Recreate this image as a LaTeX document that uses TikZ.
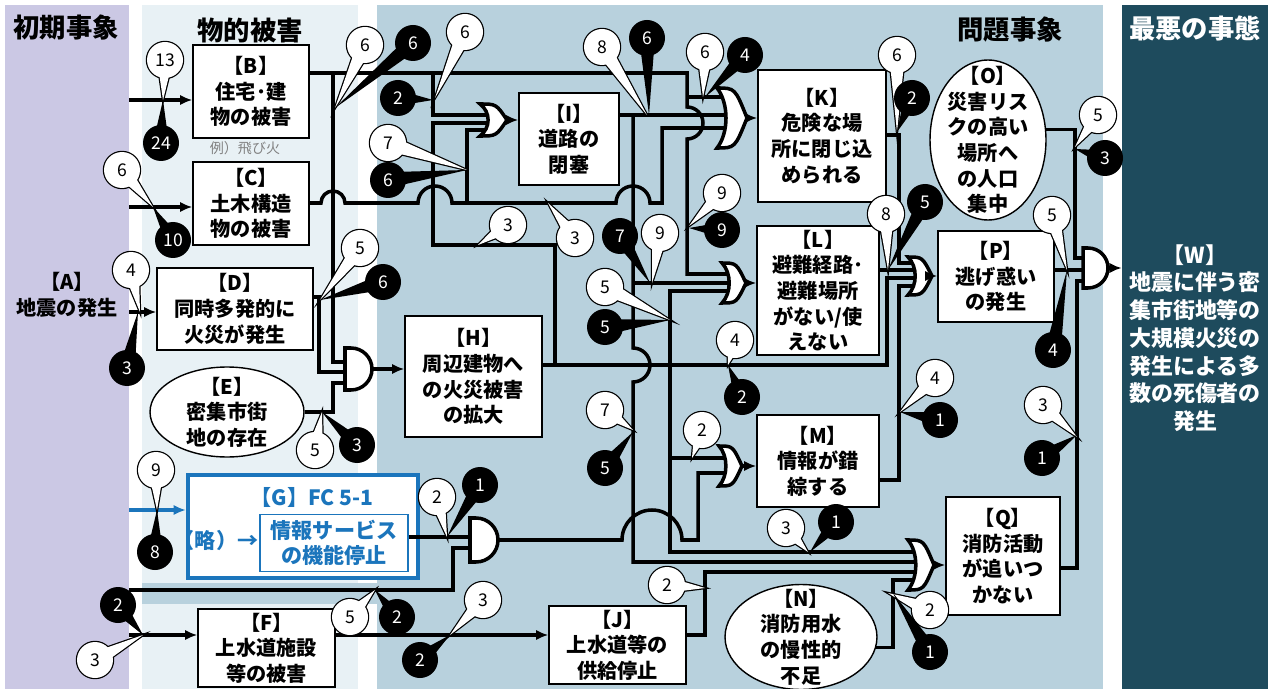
\documentclass[tikz,border=0pt]{standalone}
\usepackage{fontspec}
\setmainfont{Noto Sans CJK JP}
\usetikzlibrary{calc,shapes.geometric,arrows.meta}
\definecolor{lav}{RGB}{203,200,228}
\definecolor{pale}{RGB}{232,241,245}
\definecolor{mid}{RGB}{184,209,221}
\definecolor{dark}{RGB}{30,75,93}
\definecolor{gblue}{RGB}{27,117,188}
\begin{document}
\begin{tikzpicture}[x=0.02cm, y=-0.02cm, >={Latex[length=7pt,width=6pt]}]
\tikzstyle{box} = [draw, fill=white, line width=0.8pt, align=center, inner sep=1pt, font=\fontsize{11.5}{14.6}\selectfont\bfseries]
\tikzstyle{ell} = [draw, fill=white, ellipse, line width=0.8pt, inner sep=0pt]
\tikzstyle{txt} = [align=center, font=\fontsize{11.5}{14.6}\selectfont\bfseries]
\tikzstyle{head} = [font=\fontsize{15}{15}\selectfont\bfseries]
\tikzstyle{gtxt} = [text=gblue, font=\fontsize{12}{14}\selectfont\bfseries]
\tikzstyle{wire} = [line width=2pt]
\tikzstyle{gate} = [draw, fill=white, line width=2pt]
\tikzstyle{num} = [font=\fontsize{10}{10}\selectfont]

% gates: name, left x, centre y, width, height
\def\orgate#1#2#3#4#5{
\draw[gate] (#2,#3-#5/2) .. controls (#2+0.6*#4,#3-#5/2) .. (#2+#4,#3) .. controls (#2+0.6*#4,#3+#5/2) .. (#2,#3+#5/2) .. controls (#2+0.4*#4,#3+#5/4) and (#2+0.4*#4,#3-#5/4) .. (#2,#3-#5/2) -- cycle;
\coordinate (#1) at (#2+#4,#3);
}
\def\andgate#1#2#3#4#5{
\draw[gate] (#2,#3-#5/2) -- (#2+#4-#5/2,#3-#5/2) arc[start angle=-90,end angle=90,radius=#5/2] -- (#2,#3+#5/2) -- cycle;
\coordinate (#1) at (#2+#4,#3);
}
% callouts: name, centre, number, tip
\def\wcall#1#2#3#4{
\draw[line width=1.4pt] #2 circle[radius=18];
\draw[line width=1.4pt] ($#2!4.5pt!90:#4$) -- #4 -- ($#2!4.5pt!-90:#4$) -- cycle;
\fill[white] #2 circle[radius=18];
\fill[white] ($#2!4.5pt!90:#4$) -- #4 -- ($#2!4.5pt!-90:#4$) -- cycle;
\node[num] (#1) at #2 {#3};
}
\def\bcall#1#2#3#4{
\fill[black] #2 circle[radius=18];
\fill[black] ($#2!4.5pt!90:#4$) -- #4 -- ($#2!4.5pt!-90:#4$) -- cycle;
\node[num, text=white] (#1) at #2 {#3};
}

\useasboundingbox (0,0) rectangle (1271,689);
\fill[lav] (5,5) rectangle (129,689);
\fill[pale] (142,5) rectangle (358,689);
\fill[mid] (377,5) rectangle (1103,689);
\fill[mid] (142,583) rectangle (377,604);
\fill[dark] (1122,5) rectangle (1268,689);

\node[head] (h1) at (66,28) {初期事象};
\node[head] (h2) at (250,30) {物的被害};
\node[head] (h3) at (1010,30) {問題事象};
\node[head, text=white] (h4) at (1195,28) {最悪の事態};

% the events
\node[txt, minimum width=2.48cm] (A) at (67,295) {【A】\\地震の発生};
\node[box, minimum width=2.32cm, minimum height=1.86cm] (B) at (251,91.5) {【B】\\住宅･建\\物の被害};
\node[font=\fontsize{8}{8}\selectfont, text=gray] (Bx) at (245,148) {例）飛び火};
\node[box, minimum width=2.32cm, minimum height=1.66cm] (C) at (251,203.5) {【C】\\土木構造\\物の被害};
\node[box, minimum width=3.12cm, minimum height=1.64cm] (D) at (235,309) {【D】\\同時多発的に\\火災が発生};
\node[ell, minimum width=3.08cm, minimum height=1.8cm] (E) at (227,412) {};
\node[txt] (Et) at (E) {【E】\\密集市街\\地の存在};
\node[draw=gblue, line width=2.5pt, fill=white, minimum width=4.6cm, minimum height=2.06cm] (G) at (303,526.5) {};
\node[gtxt] (Gt) at (312,497) {【G】FC 5-1};
\node[gtxt] (Gr) at (216,540) {（略）→};
\node[gtxt, draw=gblue, line width=0.8pt, fill=white, align=center, minimum width=2.96cm, minimum height=1.08cm] (Gi) at (334,543) {情報サービス\\の機能停止};
\node[box, minimum width=2.74cm, minimum height=1.56cm] (F) at (266.5,648) {【F】\\上水道施設\\等の被害};
\node[box, minimum width=2.74cm, minimum height=2.42cm] (H) at (473.5,376.5) {【H】\\周辺建物へ\\の火災被害\\の拡大};
\node[box, minimum width=2.0cm, minimum height=1.84cm] (I) at (569,139) {【I】\\道路の\\閉塞};
\node[box, minimum width=2.74cm, minimum height=1.56cm] (J) at (617.5,645) {【J】\\上水道等の\\供給停止};
\node[box, minimum width=2.56cm, minimum height=2.64cm] (K) at (822,136) {【K】\\危険な場\\所に閉じ込\\められる};
\node[box, minimum width=2.44cm, minimum height=2.58cm] (L) at (818,290.5) {【L】\\避難経路･\\避難場所\\がない/使\\えない};
\node[box, minimum width=2.44cm, minimum height=1.84cm] (M) at (818,461) {【M】\\情報が錯\\綜する};
\node[ell, minimum width=3.04cm, minimum height=2.1cm] (N) at (801,637) {};
\node[txt] (Nt) at (N) {【N】\\消防用水\\の慢性的\\不足};
\node[ell, minimum width=2.32cm, minimum height=3.2cm] (O) at (988,140) {};
\node[txt] (Ot) at (O) {【O】\\災害リス\\クの高い\\場所へ\\の人口\\集中};
\node[box, minimum width=2.32cm, minimum height=1.82cm] (P) at (996,276.5) {【P】\\逃げ惑い\\の発生};
\node[box, minimum width=2.28cm, minimum height=2.36cm] (Q) at (1003,556) {【Q】\\消防活動\\が追いつ\\かない};
\node[txt, text=white, minimum width=2.92cm, font=\fontsize{12.5}{15.8}\selectfont\bfseries] (W) at (1195,338) {【W】\\地震に伴う密\\集市街地等の\\大規模火災の\\発生による多\\数の死傷者の\\発生};

\coordinate (inB) at (129,100);
\coordinate (inC) at (129,207);
\coordinate (inG) at (129,510);
\coordinate (inS) at (129,590);
\coordinate (inF) at (129,635);
\coordinate (gG) at (498,540);

% inputs from the left
\draw[->, wire] (inB) -- (B.west |- inB);
\draw[->, wire] (inC) -- (C.west |- inC);
\draw[->, wire] (A.east |- 0,312) -- (D.west |- 0,312);
\draw[->, wire, gblue] (inG) -- (G.west |- inG);
\draw[->, wire] (inF) -- (F.west |- inF);
\draw[wire] (inS) -- (453,590) -- (453,548) -- (473,548);
\draw[wire] (Gi.east |- 0,537) -- (473,537);

% physical damage
\draw[wire] (B.east |- 0,73) -- (687,73) -- (687,107) arc[start angle=-90,end angle=90,radius=16] -- (687,274) -- (732,274);
\draw[wire] (687,97) -- (727,97);
\draw[wire] (333,73) -- (333,362) -- (348,362);
\draw[wire] (433,73) -- (433,115) -- (490,115);
\draw[wire] (C.east |- 0,203) -- (321,203) arc[start angle=180,end angle=360,radius=12] -- (418,203) arc[start angle=180,end angle=360,radius=17] -- (616,203) arc[start angle=180,end angle=360,radius=17] -- (662,203) -- (662,128) -- (727,128);
\draw[wire] (467,203) -- (467,130) -- (490,130);
\draw[wire] (D.east |- 0,297) -- (319,297) -- (319,372) -- (348,372);
\draw[wire] (E.east) -- (333,412) -- (333,383) -- (348,383);

% problems
\draw[wire] (H.east |- 0,365) -- (887,365) -- (887,278) -- (918,278);
\draw[wire] (555,365) -- (555,245) -- (433,245) -- (433,123) -- (490,123);
\draw[wire] (732,291) -- (670,291) -- (670,552) -- (918,552);
\draw[wire] (670,458) -- (729,458);
\draw[wire] (I.east |- 0,115) -- (727,115);
\draw[wire] (633,115) -- (633,348) arc[start angle=-90,end angle=90,radius=17] -- (633,562) -- (918,562);
\draw[wire] (633,283) -- (732,283);
\draw[wire] (gG) -- (622,540) arc[start angle=180,end angle=360,radius=30] -- (698,540) -- (698,473) -- (729,473);
\draw[wire] (K.east |- 0,135) -- (899,135) -- (899,263) -- (918,263);
\draw[wire] (L.east |- 0,270) -- (918,270);
\draw[wire] (M.east |- 0,480) -- (899,480) -- (899,286) -- (918,286);
\draw[->, wire] (F.east |- 0,635) -- (J.west |- 0,635);
\draw[wire] (J.east |- 0,635) -- (705,635) -- (705,572) -- (918,572);
\draw[wire] (N.352) -| (893,580) -- (918,580);
\draw[wire] (O.10) -| (1075,258) -- (1088,258);
\draw[wire] (P.east |- 0,270) -- (1088,270);
\draw[wire] (Q.east |- 0,568) -| (1077,281) -- (1088,281);

% gates
\andgate{gH}{345}{369}{27}{42}
\orgate{gI}{480}{120}{27}{32}
\orgate{gK}{717}{118}{30}{60}
\orgate{gL}{722}{283}{24}{40}
\orgate{gM}{719}{466}{23}{40}
\orgate{gP}{908}{276}{24}{38}
\andgate{gW}{1083}{268}{25}{40}
\andgate{gG}{470}{540}{28}{44}
\orgate{gQ}{908}{565}{26}{50}
\draw[->, wire] (gH) -- (H.west |- gH);
\draw[->, wire] (gI) -- (I.west |- gI);
\draw[->, wire] (gK) -- (K.west |- gK);
\draw[->, wire] (gL) -- (L.west |- gL);
\draw[->, wire] (gM) -- (M.west |- gM);
\draw[->, wire] (gP) -- (P.west |- gP);
\draw[->, wire] (gQ) -- (Q.west |- gQ);
\draw[->, wire] (gW) -- (W.west |- gW);

% callouts
\wcall{c1}{(165,60)}{13}{(163,100)}
\bcall{c2}{(161,143)}{24}{(163,100)}
\wcall{c3}{(122,170)}{6}{(153,207)}
\bcall{c4}{(173,240)}{10}{(153,207)}
\wcall{c5}{(131,270)}{4}{(140,312)}
\bcall{c6}{(127,368)}{3}{(138,312)}
\wcall{c7}{(156,470)}{9}{(157,510)}
\bcall{c8}{(155,552)}{8}{(157,510)}
\bcall{c9}{(118,605)}{2}{(143,635)}
\wcall{c10}{(95,660)}{3}{(143,635)}
\wcall{c11}{(365,45)}{6}{(335,108)}
\bcall{c12}{(413,43)}{6}{(335,108)}
\wcall{c13}{(360,248)}{5}{(320,300)}
\bcall{c14}{(383,282)}{6}{(320,300)}
\wcall{c15}{(315,450)}{5}{(322,412)}
\bcall{c16}{(357,445)}{3}{(322,412)}
\wcall{c17}{(437,497)}{2}{(447,537)}
\bcall{c18}{(480,485)}{1}{(447,537)}
\wcall{c19}{(350,617)}{5}{(375,590)}
\bcall{c20}{(397,617)}{2}{(375,590)}
\wcall{c21}{(483,600)}{3}{(450,635)}
\bcall{c22}{(420,660)}{2}{(450,635)}
\bcall{c23}{(398,98)}{2}{(433,100)}
\wcall{c24}{(465,32)}{6}{(435,98)}
\wcall{c25}{(388,143)}{7}{(467,170)}
\bcall{c26}{(388,180)}{6}{(467,170)}
\wcall{c27}{(508,225)}{3}{(478,245)}
\wcall{c28}{(575,238)}{3}{(548,203)}
\wcall{c29}{(602,47)}{8}{(647,115)}
\bcall{c30}{(647,38)}{6}{(649,115)}
\wcall{c31}{(705,52)}{6}{(703,97)}
\bcall{c32}{(745,55)}{4}{(705,97)}
\wcall{c33}{(722,193)}{9}{(689,226)}
\bcall{c34}{(722,230)}{9}{(689,228)}
\bcall{c35}{(620,236)}{7}{(650,283)}
\wcall{c36}{(660,233)}{9}{(652,283)}
\wcall{c37}{(605,287)}{5}{(670,320)}
\bcall{c38}{(605,327)}{5}{(670,320)}
\wcall{c39}{(735,340)}{4}{(728,365)}
\bcall{c40}{(742,397)}{2}{(728,365)}
\wcall{c41}{(605,410)}{7}{(633,430)}
\bcall{c42}{(605,468)}{5}{(633,432)}
\wcall{c43}{(702,430)}{2}{(692,458)}
\wcall{c44}{(786,528)}{3}{(808,552)}
\bcall{c45}{(836,522)}{1}{(810,552)}
\wcall{c46}{(667,585)}{2}{(705,588)}
\wcall{c47}{(935,378)}{4}{(900,412)}
\bcall{c48}{(940,420)}{1}{(900,412)}
\wcall{c49}{(930,610)}{2}{(888,593)}
\bcall{c50}{(930,652)}{1}{(893,593)}
\wcall{c51}{(897,55)}{6}{(897,132)}
\bcall{c52}{(912,98)}{2}{(897,132)}
\wcall{c53}{(886,214)}{8}{(888,270)}
\bcall{c54}{(925,202)}{5}{(888,270)}
\wcall{c55}{(1098,115)}{5}{(1075,147)}
\bcall{c56}{(1105,158)}{3}{(1075,149)}
\wcall{c57}{(1052,215)}{5}{(1067,270)}
\bcall{c58}{(1053,350)}{4}{(1067,270)}
\wcall{c59}{(1043,405)}{3}{(1077,437)}
\bcall{c60}{(1042,458)}{1}{(1077,435)}
\end{tikzpicture}
\end{document}
